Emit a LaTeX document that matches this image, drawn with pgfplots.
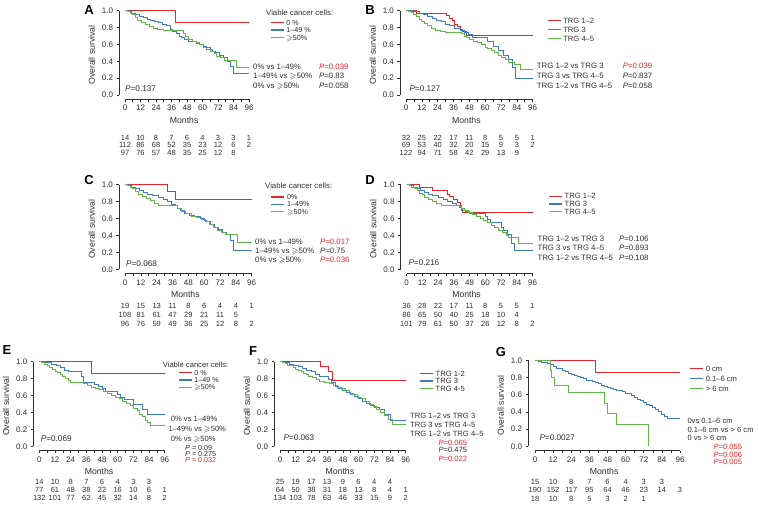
\documentclass[border=0pt]{standalone}
\usepackage{fontspec}
\setmainfont{Liberation Sans}
\usepackage{amssymb}
\usepackage{pgfplots}
\pgfplotsset{compat=1.18}

\definecolor{txt}{HTML}{2E2E2E}
\definecolor{kmred}{HTML}{E5262B}
\definecolor{kmblue}{HTML}{3E7DC1}
\definecolor{kmgreen}{HTML}{62B74B}

\newcommand\gsl{$\geqslant$}
\newcommand\lgsl{\smash{$\geqslant$}}
\newcommand\pv[1]{\textit{P}=#1}

\pgfplotsset{
  km/.style={
    xmin=-4.5, xmax=96, ymin=-0.05, ymax=1,
    axis x line*=bottom, axis y line*=left,
    axis line style={draw=none},
    xtick={0,12,...,96}, minor x tick num=1,
    ytick={0,0.2,0.4,0.6,0.8,1},
    yticklabel style={/pgf/number format/.cd,fixed,fixed zerofill,precision=1},
    /pgf/number format/assume math mode=true,
    tick align=outside,
    major tick length=2.6pt, minor tick length=2.6pt,
    tick style={txt, line width=0.6pt},
    tick label style={font=\fontsize{8}{9}\selectfont, text=txt},
    xlabel={Months}, ylabel={Overall survival},
    label style={font=\fontsize{8.7}{9}\selectfont, text=txt},
    xlabel style={yshift=1pt},
    clip=false,
    every axis plot/.append style={const plot, no markers, line width=0.9pt},
    legend cell align=left,
    legend image code/.code={\draw[#1, line width=1.2pt] (0pt,0pt) -- (13pt,0pt);},
    legend style={draw=none, fill=none, inner sep=0pt, anchor=north west,
      font=\fontsize{7.6}{8}\selectfont, text=txt, column sep=2pt,
      nodes={inner sep=0pt, text height=5.3pt, text depth=0pt}},
  },
  tight legend/.style={legend style={font=\fontsize{7.2}{8}\selectfont,
      nodes={inner sep=0pt, text height=5pt, text depth=0pt}}},
}
\newcommand\kmframe{\draw[txt,line width=0.6pt] (axis cs:-4.5,0) -- (axis cs:-4.5,1) (axis cs:0,-0.05) -- (axis cs:96,-0.05);}

\tikzset{
  lab/.style={anchor=west, inner sep=0pt, text=txt, font=\fontsize{7.8}{9}\selectfont, text height=5.6pt, text depth=0pt},
  sml/.style={lab, font=\fontsize{7.6}{8}\selectfont, text height=5.4pt},
  tiny/.style={lab, font=\fontsize{7.2}{8}\selectfont, text height=5pt},
  pl/.style={lab, font=\fontsize{8.2}{9}\selectfont, text height=5.9pt},
  rk/.style={inner sep=0pt, text=txt, font=\fontsize{7.5}{8}\selectfont, text height=5.3pt, text depth=0pt},
  letter/.style={inner sep=0pt, font=\fontsize{13}{14}\selectfont\bfseries, text height=9.3pt, text depth=0pt},
}
% number-at-risk row: x of month 0, step per 12 months, y, values
\newcommand\riskrow[4]{\foreach \v [count=\i from 0] in {#4}{\node[rk] at ({(#1+\i*#2)*1pt},{-#3pt}) {\v};}}

\begin{document}
\begin{tikzpicture}
\useasboundingbox (0,0) rectangle (758pt,-506pt);

% ---------- A ----------
\begin{axis}[km, tight legend, x=1.2917pt, y=84.3pt, at={(119.19pt,-99.22pt)}, anchor=south west,
  legend style={at={(axis cs:112.3,0.892)}, row sep=2.5pt}]
\kmframe
\addplot[kmred] coordinates {(0,1)(39,0.857)(96,0.857)};
\addlegendentry{0 \%}
\addplot[kmblue] coordinates {(0,1)(3,0.99)(5,0.97)(8,0.95)(11,0.93)(14,0.92)(17,0.90)(20,0.89)(23,0.87)(26,0.86)(29,0.84)(32,0.82)(35,0.78)(37,0.75)(40,0.73)(42,0.70)(44,0.68)(46,0.66)(49,0.64)(52,0.63)(55,0.61)(58,0.60)(61,0.58)(63,0.56)(66,0.54)(68,0.52)(70,0.50)(73,0.47)(76,0.45)(79,0.40)(82,0.34)(84,0.26)(96,0.26)};
\addlegendentry{1–49 \%}
\addplot[kmgreen] coordinates {(0,1)(2,0.99)(4,0.97)(6,0.95)(8,0.92)(10,0.89)(13,0.86)(16,0.84)(19,0.81)(22,0.79)(25,0.78)(30,0.77)(45,0.73)(47,0.69)(49,0.66)(52,0.64)(55,0.62)(58,0.60)(61,0.57)(63,0.54)(66,0.52)(69,0.49)(71,0.46)(74,0.44)(77,0.41)(86,0.33)(96,0.33)};
\addlegendentry{\lgsl50\%}
\end{axis}

% ---------- B ----------
\begin{axis}[km, x=1.3198pt, y=84.3pt, at={(400.06pt,-99.22pt)}, anchor=south west,
  legend style={at={(axis cs:106.8,0.913)}, row sep=3.5pt}]
\kmframe
\addplot[kmred] coordinates {(0,1)(8,0.97)(31,0.94)(33,0.91)(35,0.88)(37,0.84)(39,0.81)(41,0.78)(43,0.75)(46,0.71)(96,0.71)};
\addlegendentry{TRG 1–2}
\addplot[kmblue] coordinates {(0,1)(5,0.99)(10,0.97)(13,0.95)(16,0.93)(20,0.91)(23,0.89)(27,0.87)(30,0.84)(33,0.82)(37,0.79)(41,0.77)(44,0.74)(47,0.72)(50,0.68)(62,0.63)(66,0.58)(70,0.53)(74,0.47)(78,0.42)(81,0.33)(83,0.20)(96,0.20)};
\addlegendentry{TRG 3}
\addplot[kmgreen] coordinates {(0,1)(2,0.99)(4,0.98)(6,0.96)(8,0.93)(10,0.90)(12,0.87)(14,0.85)(16,0.82)(19,0.79)(22,0.77)(26,0.75)(30,0.74)(42,0.73)(44,0.70)(46,0.68)(48,0.66)(51,0.64)(54,0.62)(57,0.60)(60,0.57)(62,0.55)(65,0.53)(67,0.50)(70,0.47)(72,0.44)(75,0.42)(78,0.39)(82,0.36)(87,0.30)(96,0.30)};
\addlegendentry{TRG 4–5}
\end{axis}

% ---------- C ----------
\begin{axis}[km, tight legend, x=1.3198pt, y=84.6pt, at={(119.06pt,-273.53pt)}, anchor=south west,
  legend style={at={(axis cs:110.4,0.886)}, row sep=2.3pt}]
\kmframe
\addplot[kmred] coordinates {(0,1)(32,0.92)(38,0.83)(96,0.83)};
\addlegendentry{0\%}
\addplot[kmblue] coordinates {(0,1)(3,0.99)(5,0.97)(8,0.95)(11,0.93)(14,0.91)(17,0.89)(21,0.87)(25,0.85)(29,0.83)(32,0.80)(35,0.77)(38,0.75)(40,0.72)(42,0.69)(45,0.66)(49,0.64)(53,0.62)(57,0.60)(60,0.58)(62,0.56)(65,0.53)(68,0.50)(71,0.47)(74,0.44)(77,0.41)(80,0.34)(82,0.22)(96,0.22)};
\addlegendentry{1–49\%}
\addplot[kmgreen] coordinates {(0,1)(2,0.99)(4,0.97)(6,0.95)(8,0.92)(10,0.89)(13,0.86)(16,0.84)(19,0.81)(22,0.78)(25,0.76)(30,0.75)(40,0.72)(43,0.68)(46,0.66)(50,0.63)(54,0.61)(58,0.59)(61,0.56)(64,0.53)(67,0.50)(70,0.46)(73,0.43)(76,0.41)(85,0.32)(96,0.32)};
\addlegendentry{\lgsl50\%}
\end{axis}

% ---------- D ----------
\begin{axis}[km, x=1.3125pt, y=84.6pt, at={(400.59pt,-273.53pt)}, anchor=south west,
  legend style={at={(axis cs:108.0,0.898)}, row sep=2.5pt}]
\kmframe
\addplot[kmred] coordinates {(0,1)(10,0.97)(20,0.93)(31,0.89)(33,0.86)(36,0.83)(39,0.79)(41,0.75)(42,0.71)(43,0.67)(96,0.67)};
\addlegendentry{TRG 1–2}
\addplot[kmblue] coordinates {(0,1)(3,0.99)(5,0.97)(8,0.95)(11,0.93)(14,0.91)(17,0.89)(20,0.87)(24,0.85)(28,0.82)(31,0.80)(35,0.78)(38,0.76)(40,0.73)(42,0.70)(45,0.68)(48,0.66)(60,0.63)(62,0.59)(64,0.55)(72,0.50)(74,0.46)(77,0.41)(80,0.31)(82,0.22)(96,0.22)};
\addlegendentry{TRG 3}
\addplot[kmgreen] coordinates {(0,1)(2,0.99)(4,0.97)(6,0.95)(8,0.93)(10,0.90)(12,0.88)(14,0.85)(17,0.83)(20,0.80)(23,0.78)(27,0.76)(40,0.74)(42,0.72)(44,0.70)(47,0.67)(50,0.65)(53,0.63)(56,0.60)(59,0.58)(62,0.55)(65,0.52)(67,0.49)(70,0.46)(73,0.43)(76,0.40)(78,0.38)(85,0.31)(96,0.31)};
\addlegendentry{TRG 4–5}
\end{axis}

% ---------- E ----------
\begin{axis}[km, tight legend, x=1.3063pt, y=84.6pt, at={(33.42pt,-450.53pt)}, anchor=south west,
  legend style={at={(axis cs:106.2,0.901)}, row sep=2.3pt}]
\kmframe
\addplot[kmred] coordinates {(0,1)(40,0.86)(96,0.86)};
\addlegendentry{0 \%}
\addplot[kmblue] coordinates {(0,1)(5,0.99)(9,0.97)(13,0.95)(16,0.93)(19,0.90)(22,0.88)(32,0.82)(34,0.76)(42,0.73)(45,0.71)(48,0.68)(51,0.65)(60,0.61)(62,0.58)(65,0.55)(72,0.50)(79,0.44)(83,0.38)(96,0.38)};
\addlegendentry{1–49 \%}
\addplot[kmgreen] coordinates {(0,1)(2,0.99)(4,0.97)(6,0.95)(8,0.93)(10,0.91)(12,0.89)(14,0.87)(16,0.85)(18,0.83)(20,0.80)(22,0.78)(24,0.76)(34,0.74)(37,0.72)(40,0.70)(43,0.68)(46,0.67)(49,0.65)(52,0.62)(55,0.60)(58,0.58)(61,0.56)(64,0.53)(67,0.51)(70,0.48)(72,0.45)(75,0.42)(77,0.38)(79,0.35)(81,0.31)(83,0.28)(85,0.245)(96,0.245)};
\addlegendentry{\lgsl50\%}
\end{axis}

% ---------- F ----------
\begin{axis}[km, x=1.3094pt, y=84.6pt, at={(274.11pt,-450.53pt)}, anchor=south west,
  legend style={at={(axis cs:106.4,0.894)}, row sep=2.2pt}]
\kmframe
\addplot[kmred] coordinates {(0,1)(31,0.94)(37,0.88)(40,0.78)(96,0.78)};
\addlegendentry{TRG 1-2}
\addplot[kmblue] coordinates {(0,1)(4,0.99)(7,0.97)(10,0.96)(14,0.94)(17,0.92)(20,0.90)(24,0.88)(27,0.85)(30,0.82)(37,0.79)(39,0.75)(42,0.71)(45,0.68)(48,0.66)(51,0.64)(54,0.61)(57,0.59)(60,0.56)(63,0.53)(66,0.51)(69,0.48)(72,0.46)(76,0.44)(80,0.38)(84,0.31)(96,0.31)};
\addlegendentry{TRG 3}
\addplot[kmgreen] coordinates {(0,1)(2,0.99)(4,0.98)(6,0.96)(8,0.95)(10,0.93)(12,0.91)(14,0.90)(16,0.88)(18,0.86)(20,0.85)(22,0.83)(25,0.81)(28,0.79)(30,0.77)(34,0.76)(38,0.74)(41,0.72)(44,0.70)(47,0.68)(50,0.66)(53,0.63)(56,0.61)(59,0.58)(62,0.56)(65,0.53)(68,0.50)(71,0.47)(74,0.44)(77,0.40)(80,0.37)(83,0.32)(86,0.26)(96,0.26)};
\addlegendentry{TRG 4-5}
\end{axis}

% ---------- G ----------
\begin{axis}[km, x=1.5104pt, y=86pt, at={(528.2pt,-450.6pt)}, anchor=south west,
  legend style={at={(axis cs:102.2,0.938)}, row sep=4.7pt}]
\kmframe
\addplot[kmred] coordinates {(0,1)(40,0.86)(96,0.86)};
\addlegendentry{0 cm}
\addplot[kmblue] coordinates {(0,1)(2,0.99)(4,0.98)(6,0.97)(8,0.96)(10,0.95)(12,0.93)(14,0.91)(16,0.90)(18,0.88)(20,0.87)(22,0.85)(24,0.83)(26,0.82)(28,0.81)(30,0.80)(32,0.79)(34,0.77)(36,0.76)(38,0.75)(40,0.74)(42,0.73)(44,0.71)(46,0.70)(48,0.68)(50,0.67)(52,0.66)(54,0.65)(56,0.645)(58,0.64)(60,0.62)(62,0.61)(64,0.59)(66,0.57)(68,0.55)(70,0.53)(72,0.51)(74,0.49)(76,0.47)(78,0.45)(80,0.43)(82,0.40)(84,0.37)(86,0.35)(88,0.32)(96,0.32)};
\addlegendentry{0.1–6 cm}
\addplot[kmgreen] coordinates {(0,1)(10,0.88)(11,0.80)(13,0.71)(22,0.63)(46,0.50)(48,0.38)(54,0.25)(75,0)};
\addlegendentry{> 6 cm}
\end{axis}

% ---------- letters ----------
\node[letter] at (89pt,-10pt) {A};
\node[letter] at (370pt,-10pt) {B};
\node[letter] at (89pt,-180pt) {C};
\node[letter] at (370pt,-180pt) {D};
\node[letter] at (7pt,-350pt) {E};
\node[letter] at (253pt,-351pt) {F};
\node[letter] at (501pt,-352pt) {G};

% ---------- A texts ----------
\node[lab] at (266pt,-12.7pt) {Viable cancer cells:};
\node[lab] at (253pt,-66.7pt) {0\% vs 1–49\%};
\node[lab] at (253pt,-76pt) {1–49\% vs \gsl50\%};
\node[lab] at (253pt,-85.3pt) {0\% vs \gsl50\%};
\node[lab,text=kmred] at (319pt,-66.7pt) {\pv{0.039}};
\node[lab] at (319pt,-76pt) {\pv{0.83}};
\node[lab] at (319pt,-85.3pt) {\pv{0.058}};
\node[pl] at (125pt,-89pt) {\pv{0.137}};
\riskrow{125}{15.5}{138}{14,10,8,7,6,4,3,3,1}
\riskrow{125}{15.5}{145.3}{112,86,68,52,35,23,12,6,2}
\riskrow{125}{15.5}{152.6}{97,76,57,48,35,25,12,8}

% ---------- B texts ----------
\node[lab] at (536.7pt,-65.3pt) {TRG 1–2 vs TRG 3};
\node[lab] at (536.7pt,-75.7pt) {TRG 3 vs TRG 4–5};
\node[lab] at (536.7pt,-85.3pt) {TRG 1–2 vs TRG 4–5};
\node[lab,text=kmred] at (622.7pt,-65.3pt) {\pv{0.039}};
\node[lab] at (622.7pt,-75.7pt) {\pv{0.837}};
\node[lab] at (622.7pt,-85.3pt) {\pv{0.058}};
\node[pl] at (409.3pt,-89pt) {\pv{0.127}};
\riskrow{406}{15.84}{138}{32,25,22,17,11,8,5,5,1}
\riskrow{406}{15.84}{145.3}{69,53,40,32,20,15,9,3,2}
\riskrow{406}{15.84}{152.6}{122,94,71,58,42,29,13,9}

% ---------- C texts ----------
\node[lab] at (265pt,-186pt) {Viable cancer cells:};
\node[lab] at (255pt,-241.7pt) {0\% vs 1–49\%};
\node[lab] at (255pt,-250.7pt) {1–49\% vs \gsl50\%};
\node[lab] at (255pt,-260pt) {0\% vs \gsl50\%};
\node[lab,text=kmred] at (320pt,-241.7pt) {\pv{0.017}};
\node[lab] at (320pt,-250.7pt) {\pv{0.75}};
\node[lab,text=kmred] at (320pt,-260pt) {\pv{0.036}};
\node[pl] at (126pt,-263.3pt) {\pv{0.068}};
\riskrow{125}{15.84}{305.5}{19,15,13,11,8,6,4,4,1}
\riskrow{125}{15.84}{314.5}{108,81,61,47,29,21,11,5}
\riskrow{125}{15.84}{323.5}{96,76,59,49,36,25,12,8,2}

% ---------- D texts ----------
\node[lab] at (537.3pt,-238.7pt) {TRG 1–2 vs TRG 3};
\node[lab] at (537.3pt,-248pt) {TRG 3 vs TRG 4–5};
\node[lab] at (537.3pt,-257.3pt) {TRG 1–2 vs TRG 4–5};
\node[lab] at (619pt,-238.7pt) {\pv{0.106}};
\node[lab] at (619pt,-248pt) {\pv{0.893}};
\node[lab] at (619pt,-257.3pt) {\pv{0.108}};
\node[pl] at (408.3pt,-262.7pt) {\pv{0.216}};
\riskrow{406.5}{15.75}{305.5}{36,28,22,17,11,8,5,5,1}
\riskrow{406.5}{15.75}{314.5}{86,65,50,40,25,18,10,4}
\riskrow{406.5}{15.75}{323.5}{101,79,61,50,37,26,12,8,2}

% ---------- E texts ----------
\node[sml] at (162.7pt,-364.3pt) {Viable cancer cells:};
\node[sml] at (170.7pt,-419pt) {0\% vs 1–49\%};
\node[sml] at (168.3pt,-429pt) {1–49\% vs \gsl50\%};
\node[sml] at (170.7pt,-438.3pt) {0\% vs \gsl50\%};
\node[tiny] at (185pt,-448.2pt) {\textit{P} = 0.09};
\node[tiny] at (185pt,-454.1pt) {\textit{P} = 0.275};
\node[tiny,text=kmred] at (185pt,-460pt) {\textit{P} = 0.032};
\node[pl] at (40.7pt,-439pt) {\pv{0.069}};
\riskrow{39.3}{15.68}{481.5}{14,10,8,7,6,4,3,3}
\riskrow{39.3}{15.68}{489.5}{77,61,48,38,22,16,10,6,1}
\riskrow{39.3}{15.68}{497.5}{132,101,77,62,45,32,14,8,2}

% ---------- F texts ----------
\node[sml] at (410pt,-416pt) {TRG 1–2 vs TRG 3};
\node[sml] at (410pt,-424.5pt) {TRG 3 vs TRG 4–5};
\node[sml] at (410pt,-433.3pt) {TRG 1–2 vs TRG 4–5};
\node[sml,text=kmred] at (438.3pt,-442.3pt) {\pv{0.065}};
\node[sml] at (438.3pt,-450.2pt) {\pv{0.475}};
\node[sml,text=kmred] at (438.3pt,-458.3pt) {\pv{0.022}};
\node[pl] at (283.3pt,-437.3pt) {\pv{0.063}};
\riskrow{280}{15.71}{481.5}{25,19,17,13,9,6,4,4}
\riskrow{280}{15.71}{489.5}{64,50,38,31,18,13,8,4,1}
\riskrow{280}{15.71}{497.5}{134,103,78,63,46,33,15,9,2}

% ---------- G texts ----------
\node[sml] at (687.3pt,-421pt) {0vs 0.1–6 cm};
\node[sml] at (687.3pt,-429.3pt) {0.1–6 cm vs > 6 cm};
\node[sml] at (687.3pt,-437.6pt) {0 vs > 6 cm};
\node[sml,text=kmred] at (713.3pt,-446.7pt) {\pv{0.055}};
\node[sml,text=kmred] at (713.3pt,-454.3pt) {\pv{0.006}};
\node[sml,text=kmred] at (713.3pt,-461.9pt) {\pv{0.005}};
\node[pl] at (539.3pt,-437.3pt) {\pv{0.0027}};
\riskrow{535}{18.13}{481.5}{15,10,8,7,6,4,3,3}
\riskrow{535}{18.13}{490}{190,152,117,95,64,46,23,14,3}
\riskrow{535}{18.13}{498.5}{18,10,8,5,3,2,1}
\end{tikzpicture}
\end{document}
